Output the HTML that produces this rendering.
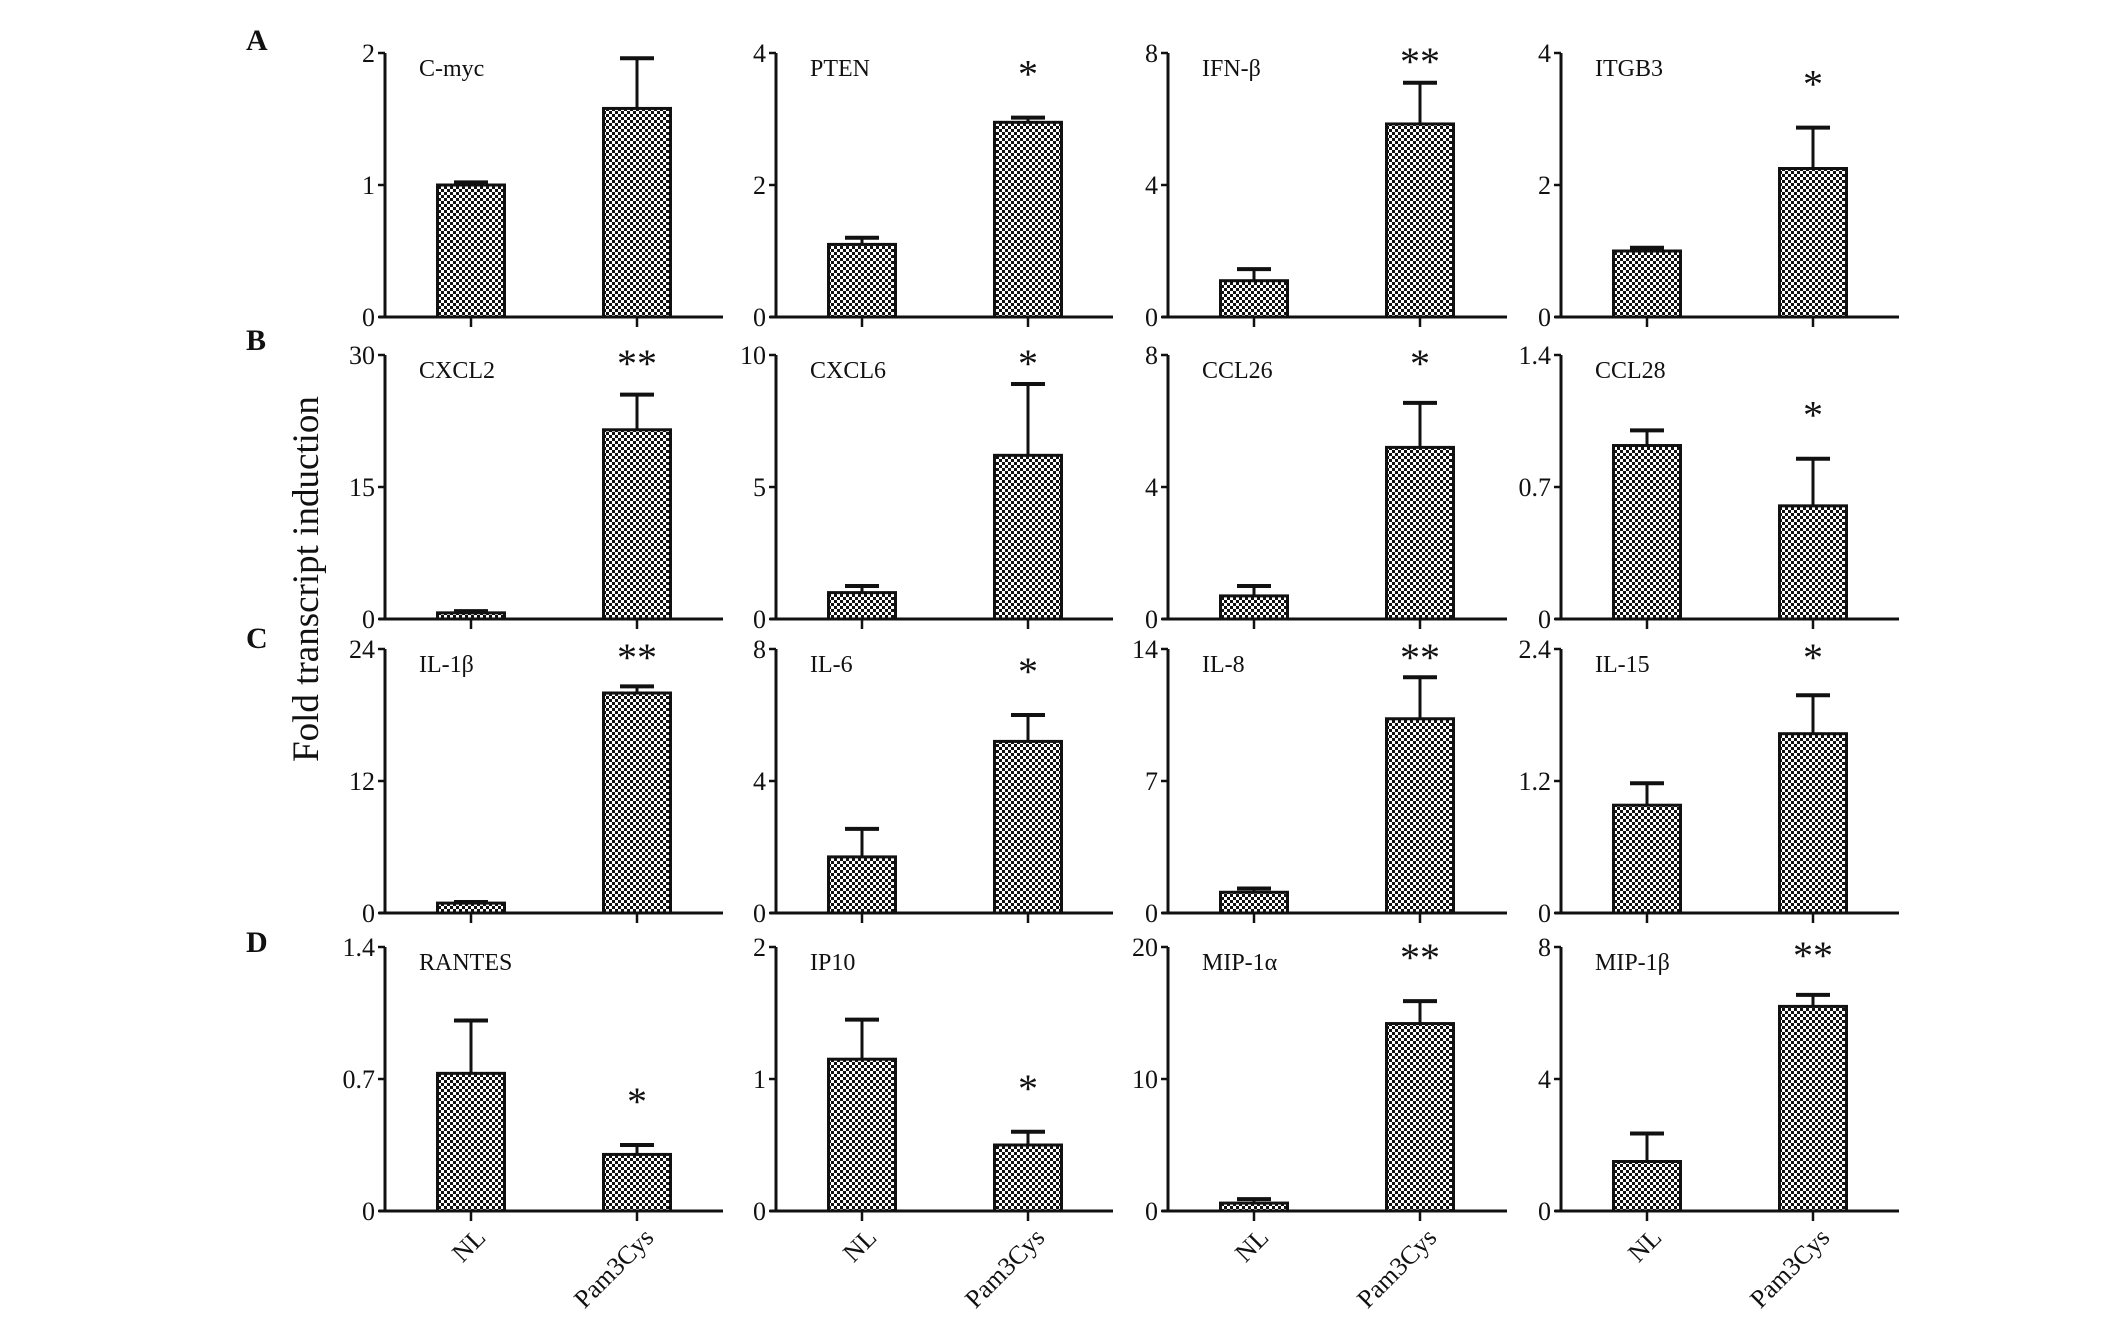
<!DOCTYPE html>
<html><head><meta charset="utf-8"><style>
html,body{margin:0;padding:0;background:#fff}
svg{display:block}
text{font-family:"Liberation Serif",serif;fill:#111}
</style></head><body>
<svg id="fig" width="2126" height="1331" viewBox="0 0 2126 1331" xmlns="http://www.w3.org/2000/svg">
<defs>
<pattern id="chk" width="6" height="6" patternUnits="userSpaceOnUse">
<rect width="6" height="6" fill="#fff"/>
<rect width="3" height="3" fill="#111"/>
<rect x="3" y="3" width="3" height="3" fill="#111"/>
</pattern>
</defs>
<text transform="translate(318,579) rotate(-90)" text-anchor="middle" font-size="37">Fold transcript induction</text>
<g id="panels"></g>
</svg>
<script>
const genes = ["C-myc","PTEN","IFN-β","ITGB3","CXCL2","CXCL6","CCL26","CCL28","IL-1β","IL-6","IL-8","IL-15","RANTES","IP10","MIP-1α","MIP-1β"];
const nlValues = [1.0,1.1,1.1,1.0, 0.7,1.0,0.7,0.92, 0.9,1.7,1.1,0.98, 0.73,1.15,0.6,1.5];
const pamValues = [1.58,2.95,5.85,2.25, 21.5,6.2,5.2,0.6, 20,5.2,10.3,1.63, 0.3,0.5,14.2,6.2];
const nlErrors = [0.02,0.1,0.35,0.05, 0.2,0.25,0.3,0.08, 0.1,0.85,0.2,0.2, 0.28,0.3,0.3,0.85];
const pamErrors = [0.38,0.07,1.25,0.62, 4,2.7,1.35,0.25, 0.6,0.8,2.2,0.35, 0.05,0.1,1.7,0.35];
const axisMax = [2,4,8,4, 30,10,8,1.4, 24,8,14,2.4, 1.4,2,20,8];
const tickLabels = [["0","1","2"],["0","2","4"],["0","4","8"],["0","2","4"],["0","15","30"],["0","5","10"],["0","4","8"],["0","0.7","1.4"],["0","12","24"],["0","4","8"],["0","7","14"],["0","1.2","2.4"],["0","0.7","1.4"],["0","1","2"],["0","10","20"],["0","4","8"]];
const significance = ["","*","**","*","**","*","*","*","**","*","**","*","*","*","**","**"];
const rowLetters = ["A","B","C","D"];

const NS="http://www.w3.org/2000/svg";
const root=document.getElementById('panels');
function mk(tag,attrs,parent,txt){const e=document.createElementNS(NS,tag);for(const k in attrs)e.setAttribute(k,attrs[k]);if(txt!==undefined)e.textContent=txt;parent.appendChild(e);return e;}
const colX=[385,776,1168,1561], colW=[338,337,339,338];
const rowZero=[317,619,913,1211], plotH=264;
const letterY=[50,350,648,952];
rowLetters.forEach((L,r)=>{
  const t=mk('text',{x:246,y:letterY[r],'font-size':30,'font-weight':'bold'},root,L);
  
  
});
for(let i=0;i<16;i++){
  const r=Math.floor(i/4),c=i%4;
  const x0=colX[c], y0=rowZero[r], w=colW[c], top=y0-plotH;
  const ys=v=>y0-v/axisMax[i]*plotH;
  const xNL=x0+86, xP=x0+252, bw=67;
  const g=mk('g',{},root);
  
  
  [[xNL,nlValues[i],nlErrors[i],'nl'],[xP,pamValues[i],pamErrors[i],'pam3cys']].forEach(([cx,v,e,n])=>{
    const eb=mk('g',{},g);
    
    
    mk('line',{x1:cx,x2:cx,y1:ys(v),y2:ys(v+e),stroke:'#111','stroke-width':3},eb);
    mk('line',{x1:cx-17,x2:cx+17,y1:ys(v+e),y2:ys(v+e),stroke:'#111','stroke-width':4},eb);
    const b=mk('rect',{x:cx-bw/2,y:ys(v),width:bw,height:y0-ys(v),fill:'url(#chk)',stroke:'#111','stroke-width':3},g);
    
    
  });
  const ya=mk('line',{x1:x0,x2:x0,y1:top,y2:y0,stroke:'#111','stroke-width':3},g);
  
  
  const xa=mk('line',{x1:x0-6,x2:x0+w,y1:y0,y2:y0,stroke:'#111','stroke-width':3},g);
  
  
  tickLabels[i].forEach((lab,k)=>{
    const v=axisMax[i]*k/2, y=ys(v);
    mk('line',{x1:x0-7,x2:x0,y1:y,y2:y,stroke:'#111','stroke-width':2.5},g);
    const t=mk('text',{x:x0-10,y:y+9,'text-anchor':'end','font-size':26},g,lab);
    
    
  });
  [xNL,xP].forEach(cx=>mk('line',{x1:cx,x2:cx,y1:y0,y2:y0+10,stroke:'#111','stroke-width':2.5},g));
  const gl=mk('text',{x:x0+34,y:top+23,'font-size':24},g,genes[i]);
  
  
  if(significance[i]){
    const et=ys(pamValues[i]+pamErrors[i]);
    const sy=Math.max(et-50,top+2);
    const s=mk('text',{x:xP,y:sy+20,'text-anchor':'middle','font-size':40,'font-family':'Liberation Sans, sans-serif'},g,significance[i]);
    
    
  }
  if(r===3){
    const a=mk('text',{transform:`translate(${xNL+16},${y0+28}) rotate(-45)`,'text-anchor':'end','font-size':26},g,'NL');
    
    
    const b=mk('text',{transform:`translate(${xP+18},${y0+28}) rotate(-45)`,'text-anchor':'end','font-size':26},g,'Pam3Cys');
    
    
  }
}
</script>
</body></html>
